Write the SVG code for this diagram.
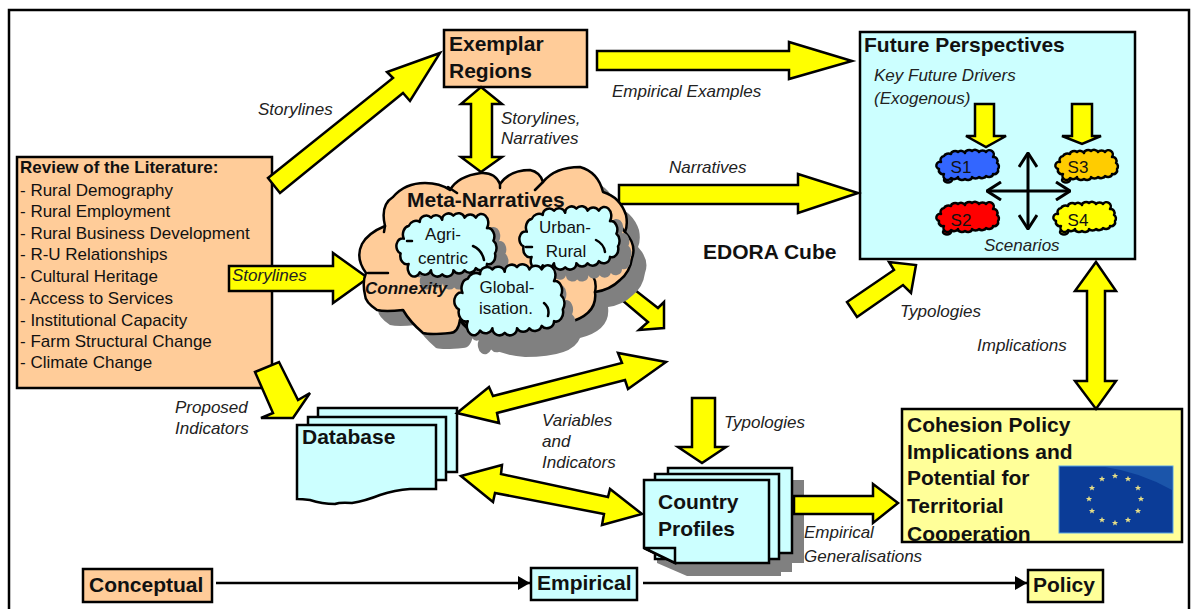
<svg xmlns="http://www.w3.org/2000/svg" width="1191" height="609" viewBox="0 0 1191 609">
<style>
text{font-family:"Liberation Sans",Arial,sans-serif;fill:#111}
.b{font-weight:700;font-size:21px}
.l{font-size:17px}
.i{font-style:italic;font-size:17px;fill:#222}
.c{text-anchor:middle}
.box{stroke:#000;stroke-width:2.5}
.peach{fill:#FFCC99}.cyan{fill:#CCFFFF}.pale{fill:#FFFF99}
.arrow{fill:#FFFF00;stroke:#000;stroke-width:2.5;stroke-linejoin:miter}
.cloud{stroke:#000;stroke-width:2.5;stroke-linejoin:round}
#cl{vector-effect:non-scaling-stroke}
.hook{fill:none;stroke:#000;stroke-width:2.5;stroke-linecap:round}
.flow{fill:none;stroke:#000;stroke-width:2.5}
.cross{fill:none;stroke:#000;stroke-width:3}
</style>
<defs>
<path id="cl" d="M-27-3A4 4 0 0 1-24-9A5 4 0 0 1-17-11A4 3 0 0 1-10-13A4 3 0 0 1-3-12A4 3 0 0 1 4-14A4 3 0 0 1 11-13A4 3 0 0 1 18-13A4 4 0 0 1 25-8A4 4 0 0 1 29-2A4 4 0 0 1 30 4A4 4 0 0 1 25 9A4 3 0 0 1 18 11A4 3 0 0 1 11 12A4 3 0 0 1 4 12A4 3 0 0 1-3 14A4 3 0 0 1-10 12A4 3 0 0 1-17 13A4 4 0 0 1-24 9A4 4 0 0 1-29 4A3 3 0 0 1-27-3Z"/>
<path id="meta" d="M366 273Q355 258 362 244Q368 233 385 226Q380 205 393 197Q405 183 425 183Q440 183 450 190Q458 176 481 173Q495 172 500 184Q510 170 530 170Q540 172 543 182Q555 167 580 167Q598 172 603 192Q620 197 626 215Q628 225 625 232Q637 245 632 258Q630 272 620 280Q610 290 595 292Q598 315 567 323Q560 342 512 342Q480 340 460 320Q458 333 450 333Q430 335 423 333Q410 322 403 310Q385 312 377 310Q365 302 365 295Q362 282 366 273Z"/>
<marker id="solid" viewBox="0 0 12 14" refX="12" refY="7" markerWidth="12" markerHeight="14" markerUnits="userSpaceOnUse" orient="auto"><path d="M0 0L12 7L0 14Z" fill="#000"/></marker>
<marker id="open" viewBox="0 0 16 20" refX="15" refY="10" markerWidth="16" markerHeight="20" markerUnits="userSpaceOnUse" orient="auto-start-reverse"><path d="M1 1L15 10L1 19" fill="none" stroke="#000" stroke-width="3"/></marker>
<path id="star" d="M0-3.2L.9-1 3.1-1 1.4.4 2 2.6 0 1.3-2 2.6-1.4.4-3.1-1-.9-1Z" fill="#E6DE86"/>
</defs>

<rect id="frame" x="9" y="10" width="1180" height="620" fill="#fff" stroke="#000" stroke-width="2.5"/>

<g id="review">
<rect class="box peach" x="17" y="157" width="255" height="231"/>
<text x="20" y="173" class="l" style="font-weight:700">Review of the Literature:</text>
<text x="20" y="196" class="l">- Rural Demography</text>
<text x="20" y="217" class="l">- Rural Employment</text>
<text x="20" y="239" class="l">- Rural Business Development</text>
<text x="20" y="260" class="l">- R-U Relationships</text>
<text x="20" y="282" class="l">- Cultural Heritage</text>
<text x="20" y="304" class="l">- Access to Services</text>
<text x="20" y="326" class="l">- Institutional Capacity</text>
<text x="20" y="347" class="l">- Farm Structural Change</text>
<text x="20" y="368" class="l">- Climate Change</text>
</g>

<g id="exemplar">
<rect class="box peach" x="444" y="30" width="143" height="57"/>
<text x="449" y="51" class="b">Exemplar</text>
<text x="449" y="78" class="b">Regions</text>
</g>

<g id="future">
<rect class="box cyan" x="860" y="32" width="275" height="227"/>
<text x="864" y="52" class="b">Future Perspectives</text>
<text x="874" y="81" class="i">Key Future Drivers</text>
<text x="874" y="104" class="i">(Exogenous)</text>
<g id="s1"><ellipse cx="948" cy="180" rx="4" ry="2.5" fill="#3366FF" stroke="#000" stroke-width="2.5"/><use href="#cl" class="cloud" fill="#3366FF" transform="translate(968,165)"/><text x="961" y="173" class="l c">S1</text></g>
<g id="s2"><ellipse cx="947" cy="232" rx="4" ry="2.5" fill="#FF0000" stroke="#000" stroke-width="2.5"/><use href="#cl" class="cloud" fill="#FF0000" transform="translate(968,217)"/><text x="961" y="226" class="l c">S2</text></g>
<g id="s3"><ellipse cx="1066" cy="180" rx="4" ry="2.5" fill="#FFCC00" stroke="#000" stroke-width="2.5"/><use href="#cl" class="cloud" fill="#FFCC00" transform="translate(1087,165)"/><text x="1078" y="173" class="l c">S3</text></g>
<g id="s4"><ellipse cx="1064" cy="232" rx="4" ry="2.5" fill="#FFFF00" stroke="#000" stroke-width="2.5"/><use href="#cl" class="cloud" fill="#FFFF00" transform="translate(1085,217)"/><text x="1078" y="226" class="l c">S4</text></g>
<path class="cross" d="M987 191H1070" marker-start="url(#open)" marker-end="url(#open)"/>
<path class="cross" d="M1028 153V229" marker-start="url(#open)" marker-end="url(#open)"/>
<text x="984" y="251" class="i">Scenarios</text>
</g>

<text id="edora" x="703" y="259" style="font-weight:700;font-size:21px">EDORA Cube</text>

<g id="database">
<rect class="box cyan" x="318" y="408" width="139" height="64"/>
<rect class="box cyan" x="308" y="417" width="138" height="63"/>
<path class="box cyan" d="M297 425H436V489H410Q395 490 380 495Q365 501 352 503Q340 502 335 504Q322 504 310 500Q302 499 297 499Z"/>
<text x="302" y="444" class="b">Database</text>
</g>

<g id="country-profiles">
<polygon fill="#808080" points="792,480 804,480 804,563 792,563 792,572 781,572 781,576 687,576 657,563 657,550 792,550"/>
<rect class="box cyan" x="668" y="468" width="124" height="85"/>
<rect class="box cyan" x="655" y="474" width="124" height="85"/>
<path class="box cyan" d="M644 480H769V563H675L644 548Z"/>
<path class="box cyan" d="M644 548H675V563Z"/>
<text x="658" y="509" class="b">Country</text>
<text x="658" y="536" class="b">Profiles</text>
</g>

<g id="cohesion">
<rect class="box pale" x="902" y="409" width="280" height="133"/>
<svg x="902" y="409" width="280" height="132" viewBox="902 409 280 132">
<text x="907" y="432" class="b">Cohesion Policy</text>
<text x="907" y="459" class="b">Implications and</text>
<text x="907" y="485" class="b">Potential for</text>
<text x="907" y="513" class="b">Territorial</text>
<text x="907" y="541" class="b">Cooperation</text>
</svg>
<rect x="1059" y="466" width="114" height="67" fill="#0B3C97" stroke="#5BA6E6" stroke-width="1"/>
<path d="M1105 467H1172V490Q1140 472 1105 467Z" fill="#1B55AA"/>
<use href="#star" x="1115" y="476"/><use href="#star" x="1128" y="479"/><use href="#star" x="1138" y="488"/><use href="#star" x="1141" y="499"/><use href="#star" x="1138" y="511"/><use href="#star" x="1128" y="520"/><use href="#star" x="1115" y="523"/><use href="#star" x="1102" y="520"/><use href="#star" x="1092" y="511"/><use href="#star" x="1089" y="499"/><use href="#star" x="1092" y="488"/><use href="#star" x="1102" y="479"/>
</g>

<g id="conceptual"><rect class="box peach" x="83" y="569" width="129" height="33"/><text x="89" y="592" class="b">Conceptual</text></g>
<g id="empirical"><rect class="box cyan" x="531" y="568" width="106" height="32"/><text x="537" y="590" class="b">Empirical</text></g>
<g id="policy"><rect class="box pale" x="1028" y="570" width="75" height="32"/><text x="1033" y="592" class="b">Policy</text></g>

<g id="connectors">
<polygon class="arrow" points="268,178 393,78 387,72 440,53 410,101 403,93 280,193"/>
<polygon class="arrow" points="597,51 789,51 789,42 852,61 789,79 789,70 597,70"/>
<polygon class="arrow" points="619,185 798,185 798,174 858,193 798,213 798,204 619,204"/>
<polygon class="arrow" points="481,87 502,104 492,104 492,157 502,157 481,172 461,157 471,157 471,104 461,104"/>
<polygon class="arrow" points="229,266 333,266 333,253 368,278 333,303 333,291 229,291"/>
<polygon class="arrow" points="255,372 279,362 298,400 310,393 293,418 261,418 273,413"/>
<polygon class="arrow" points="622,300 635,290 658,308 664,302 664,328 639,330 648,322"/>
<polygon class="arrow" points="457,413 489,387 493,396 622,363 618,353 666,362 628,389 625,380 497,413 499,423"/>
<polygon class="arrow" points="461,476 502,465 501,474 608,497 610,489 642,514 602,525 604,514 495,493 493,502"/>
<polygon class="arrow" points="847,302 857,317 903,285 911,293 916,265 889,262 894,270"/>
<polygon class="arrow" points="1096,262 1116,291 1105,291 1105,381 1116,381 1096,409 1075,381 1087,381 1087,291 1075,291"/>
<polygon class="arrow" points="692,398 715,398 715,447 726,447 702,463 678,447 692,447"/>
<polygon class="arrow" points="794,496 873,496 873,484 898,503 873,523 873,514 794,514"/>
<polygon class="arrow" points="975,104 994,104 994,136 1006,136 986,147 966,136 975,136"/>
<polygon class="arrow" points="1072,104 1092,104 1092,136 1101,136 1082,144 1062,136 1072,136"/>
<path class="flow" d="M216 583H530" marker-end="url(#solid)"/>
<path class="flow" d="M643 583H1027" marker-end="url(#solid)"/>
</g>

<g id="meta-narratives">
<use href="#meta" fill="#808080" transform="translate(13,15)"/>
<use href="#meta" class="cloud peach"/>
<path class="hook" d="M385 226L384 232M368 273H388M448 187L457 193M500 184V188M543 182L535 190M625 232L622 228M595 292Q597 283 593 276M460 320Q470 338 512 342"/>
<use href="#cl" fill="#808080" transform="translate(459,258) scale(1.6,2.1)"/>
<use href="#cl" fill="#808080" transform="translate(582,250) scale(1.6,2.1)"/>
<use href="#cl" fill="#808080" transform="translate(521,319) scale(1.76,2.35)"/>
<use href="#cl" class="cloud cyan" transform="translate(447,245) scale(1.6,2.1)"/>
<use href="#cl" class="cloud cyan" transform="translate(570,238) scale(1.6,2.1)"/>
<use href="#cl" class="cloud cyan" transform="translate(510,300) scale(1.76,2.35)"/>
<path class="hook" d="M473 246Q482 250 484 260M596 240Q604 244 605 252M544 303Q550 308 548 316M407 241H412M526 247H532"/>
<text x="407" y="207" class="b">Meta-Narratives</text>
<text x="365" y="294" class="l" style="font-weight:700;font-style:italic">Connexity</text>
<text x="443" y="240" class="l c">Agri-</text>
<text x="443" y="264" class="l c">centric</text>
<text x="565" y="233" class="l c">Urban-</text>
<text x="566" y="257" class="l c">Rural</text>
<text x="507" y="293" class="l c">Global-</text>
<text x="506" y="314" class="l c">isation.</text>
</g>

<g id="labels">
<text x="232" y="281" class="i">Storylines</text>
<text x="258" y="115" class="i">Storylines</text>
<text x="501" y="124" class="i">Storylines,</text>
<text x="501" y="144" class="i">Narratives</text>
<text x="612" y="97" class="i">Empirical Examples</text>
<text x="669" y="173" class="i">Narratives</text>
<text x="175" y="413" class="i">Proposed</text>
<text x="175" y="434" class="i">Indicators</text>
<text x="542" y="426" class="i">Variables</text>
<text x="542" y="447" class="i">and</text>
<text x="542" y="468" class="i">Indicators</text>
<text x="724" y="428" class="i">Typologies</text>
<text x="900" y="317" class="i">Typologies</text>
<text x="977" y="351" class="i">Implications</text>
<text x="804" y="538" class="i">Empirical</text>
<text x="804" y="562" class="i">Generalisations</text>
</g>
</svg>
